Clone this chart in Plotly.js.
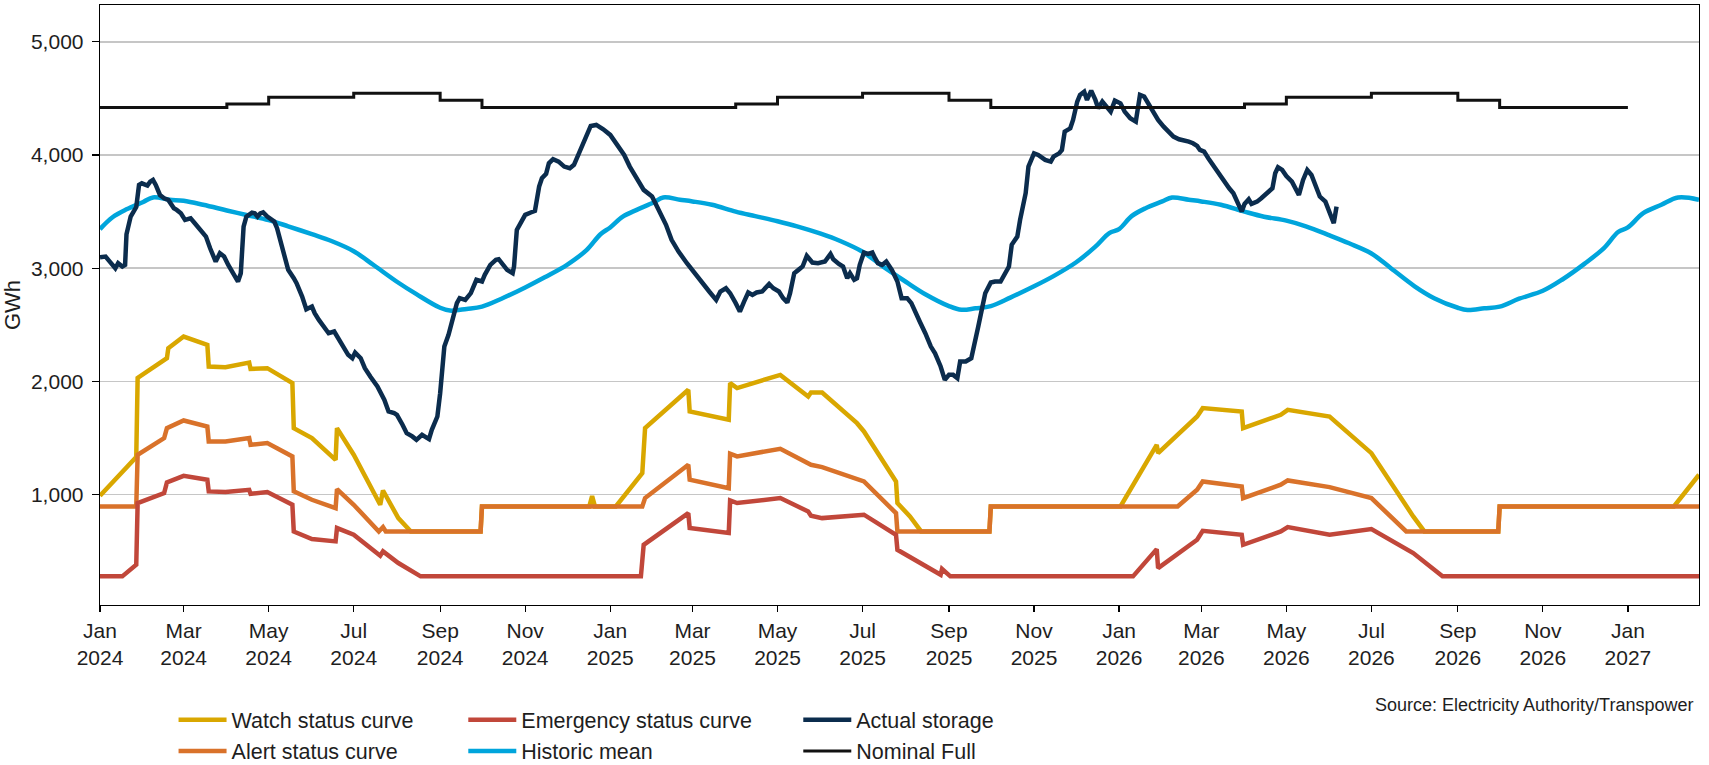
<!DOCTYPE html>
<html>
<head>
<meta charset="utf-8">
<script src="https://cdn.plot.ly/plotly-3.0.1.min.js"></script>
<style>
html,body{margin:0;padding:0;background:#ffffff;}
#chart{width:1709px;height:765px;}
</style>
</head>
<body>
<div id="chart"></div>
<script>
// ---------------- DATA (GWh) ----------------
const watchDates = ['2024-01-01','2024-01-27','2024-01-28','2024-02-18','2024-02-19','2024-03-01','2024-03-18','2024-03-19','2024-03-31','2024-04-17','2024-04-18','2024-04-30','2024-05-18','2024-05-19','2024-06-01','2024-06-18','2024-06-19','2024-07-01','2024-07-20','2024-07-22','2024-08-02','2024-08-09','2024-08-11','2024-09-30','2024-10-01','2024-12-17','2024-12-19','2024-12-21','2025-01-05','2025-01-24','2025-01-26','2025-02-26','2025-02-27','2025-03-27','2025-03-28','2025-04-02','2025-05-03','2025-05-23','2025-05-25','2025-06-02','2025-06-27','2025-07-02','2025-07-25','2025-07-26','2025-08-04','2025-08-12','2025-09-30','2025-10-01','2026-01-02','2026-01-28','2026-01-29','2026-02-26','2026-03-02','2026-03-30','2026-03-31','2026-04-27','2026-05-02','2026-06-01','2026-07-01','2026-07-31','2026-08-08','2026-09-30','2026-10-01','2027-02-03','2027-02-21'];
const watchGWh = [988,1330,2030,2205,2293,2396,2322,2131,2125,2166,2110,2116,1984,1586,1498,1306,1586,1351,909,1035,791,688,673,673,894,894,985,894,894,1189,1586,1925,1733,1660,1984,1940,2057,1866,1901,1901,1630,1557,1115,924,806,673,673,894,894,1439,1365,1689,1763,1733,1586,1704,1748,1689,1365,806,673,673,894,894,1174];

const alertDates = ['2024-01-01','2024-01-27','2024-01-28','2024-02-16','2024-02-18','2024-03-01','2024-03-18','2024-03-19','2024-03-31','2024-04-17','2024-04-18','2024-04-30','2024-05-18','2024-05-19','2024-06-01','2024-06-18','2024-06-19','2024-07-01','2024-07-19','2024-07-22','2024-07-24','2024-09-30','2024-10-01','2025-01-24','2025-01-26','2025-02-26','2025-02-27','2025-03-27','2025-03-28','2025-04-02','2025-05-03','2025-05-25','2025-06-02','2025-07-02','2025-07-25','2025-07-26','2025-09-30','2025-10-01','2026-02-12','2026-02-26','2026-03-02','2026-03-30','2026-03-31','2026-04-27','2026-05-02','2026-06-01','2026-07-01','2026-07-26','2026-09-30','2026-10-01','2027-02-21'];
const alertGWh = [894,894,1351,1498,1586,1654,1601,1468,1468,1498,1439,1454,1336,1027,953,879,1047,909,673,712,673,673,894,894,968,1262,1130,1056,1360,1336,1404,1262,1242,1115,835,673,673,894,894,1041,1115,1071,968,1086,1124,1065,968,673,673,894,894];

const emergencyDates = ['2024-01-01','2024-01-17','2024-01-27','2024-01-28','2024-02-16','2024-02-18','2024-03-01','2024-03-18','2024-03-19','2024-03-31','2024-04-17','2024-04-18','2024-04-30','2024-05-18','2024-05-19','2024-06-01','2024-06-18','2024-06-19','2024-07-01','2024-07-20','2024-07-22','2024-08-02','2024-08-18','2025-01-23','2025-01-25','2025-02-26','2025-02-27','2025-03-27','2025-03-28','2025-04-02','2025-05-03','2025-05-23','2025-05-25','2025-06-02','2025-07-02','2025-07-25','2025-07-26','2025-08-26','2025-08-27','2025-09-02','2026-01-11','2026-01-28','2026-01-29','2026-02-26','2026-03-02','2026-03-30','2026-03-31','2026-04-27','2026-05-02','2026-06-01','2026-07-01','2026-07-31','2026-08-21','2027-02-21'];
const emergencyGWh = [276,276,379,924,1012,1106,1165,1130,1027,1021,1041,1006,1021,909,673,606,585,703,644,458,497,394,276,276,555,835,703,659,947,924,968,850,812,791,821,644,511,290,341,276,276,517,349,600,679,644,555,673,712,644,694,482,276,276];

const historicDates = [
'2024-01-01','2024-01-10','2024-01-20','2024-02-01','2024-02-08','2024-02-20','2024-03-01','2024-03-15','2024-04-01','2024-04-15','2024-05-01','2024-05-15','2024-06-01','2024-06-15','2024-07-01','2024-07-15','2024-08-01','2024-08-15','2024-09-01','2024-09-08','2024-09-20','2024-10-01','2024-10-15','2024-11-01','2024-11-15','2024-12-01','2024-12-15','2024-12-25',
'2025-01-01','2025-01-10','2025-01-20','2025-02-01','2025-02-08','2025-02-20','2025-03-01','2025-03-15','2025-04-01','2025-04-15','2025-05-01','2025-05-15','2025-06-01','2025-06-15','2025-07-01','2025-07-15','2025-08-01','2025-08-15','2025-09-01','2025-09-10','2025-09-20','2025-10-01','2025-10-15','2025-11-01','2025-11-15','2025-12-01','2025-12-15','2025-12-25',
'2026-01-01','2026-01-10','2026-01-20','2026-02-01','2026-02-08','2026-02-20','2026-03-01','2026-03-15','2026-04-01','2026-04-15','2026-05-01','2026-05-15','2026-06-01','2026-06-15','2026-07-01','2026-07-15','2026-08-01','2026-08-15','2026-09-01','2026-09-08','2026-09-20','2026-10-01','2026-10-15','2026-11-01','2026-11-15','2026-12-01','2026-12-15','2026-12-25',
'2027-01-01','2027-01-12','2027-01-25','2027-02-06','2027-02-21'];
const historicGWh = [
3345,3450,3520,3585,3625,3605,3595,3560,3510,3470,3425,3370,3300,3240,3150,3030,2880,2770,2650,2625,2640,2660,2730,2830,2920,3030,3160,3300,
3360,3455,3515,3580,3625,3605,3590,3560,3500,3460,3415,3370,3305,3240,3145,3020,2880,2770,2665,2632,2645,2665,2740,2840,2930,3050,3190,3310,
3345,3460,3530,3590,3625,3605,3590,3560,3500,3455,3420,3370,3290,3220,3130,3000,2840,2735,2650,2630,2645,2660,2730,2800,2900,3040,3180,3320,
3360,3486,3560,3625,3605];

const actualDates = [
'2024-01-01','2024-01-05','2024-01-08','2024-01-12','2024-01-14','2024-01-17','2024-01-19','2024-01-20','2024-01-23','2024-01-25','2024-01-27','2024-01-29','2024-01-31',
'2024-02-04','2024-02-06','2024-02-08','2024-02-10','2024-02-13','2024-02-16','2024-02-19','2024-02-23','2024-02-25','2024-02-28',
'2024-03-02','2024-03-06','2024-03-09','2024-03-13','2024-03-17','2024-03-20','2024-03-24','2024-03-27','2024-03-30',
'2024-04-02','2024-04-06','2024-04-09','2024-04-11','2024-04-12','2024-04-13','2024-04-15','2024-04-19','2024-04-21','2024-04-23','2024-04-25','2024-04-27','2024-04-30',
'2024-05-02','2024-05-05','2024-05-07','2024-05-09','2024-05-13','2024-05-15','2024-05-19','2024-05-21','2024-05-25','2024-05-28',
'2024-06-01','2024-06-03','2024-06-06','2024-06-09','2024-06-13','2024-06-17','2024-06-20','2024-06-24','2024-06-27','2024-06-30',
'2024-07-02','2024-07-06','2024-07-09','2024-07-13','2024-07-18','2024-07-23','2024-07-26','2024-07-30',
'2024-08-01','2024-08-05','2024-08-08','2024-08-12','2024-08-15','2024-08-19','2024-08-21','2024-08-24','2024-08-26','2024-08-30',
'2024-09-01','2024-09-03','2024-09-04','2024-09-07','2024-09-10','2024-09-13','2024-09-15','2024-09-19','2024-09-23','2024-09-27',
'2024-10-01','2024-10-03','2024-10-07','2024-10-11','2024-10-13','2024-10-15','2024-10-19','2024-10-23','2024-10-24','2024-10-26','2024-10-29',
'2024-11-01','2024-11-05','2024-11-08','2024-11-11','2024-11-13','2024-11-16','2024-11-18','2024-11-21','2024-11-25','2024-11-29',
'2024-12-03','2024-12-06','2024-12-09','2024-12-12','2024-12-15','2024-12-18','2024-12-22','2024-12-27',
'2025-01-01','2025-01-06','2025-01-11','2025-01-15','2025-01-20','2025-01-25','2025-01-31',
'2025-02-05','2025-02-10','2025-02-14','2025-02-19','2025-02-25',
'2025-03-03','2025-03-08','2025-03-13','2025-03-18','2025-03-21','2025-03-25','2025-03-28',
'2025-04-01','2025-04-04','2025-04-07','2025-04-10','2025-04-13','2025-04-16','2025-04-20','2025-04-25','2025-04-28',
'2025-05-02','2025-05-05','2025-05-08','2025-05-10','2025-05-13','2025-05-16','2025-05-19','2025-05-22','2025-05-26','2025-05-30',
'2025-06-04','2025-06-08','2025-06-10','2025-06-14','2025-06-17','2025-06-20','2025-06-22','2025-06-25','2025-06-27','2025-06-29',
'2025-07-02','2025-07-05','2025-07-08','2025-07-10','2025-07-12','2025-07-15','2025-07-18','2025-07-22','2025-07-26','2025-07-29',
'2025-08-02','2025-08-05','2025-08-09','2025-08-11','2025-08-15','2025-08-19','2025-08-22','2025-08-26','2025-08-29',
'2025-09-01','2025-09-04','2025-09-07','2025-09-09','2025-09-13','2025-09-17','2025-09-20','2025-09-22','2025-09-25','2025-09-27',
'2025-10-01','2025-10-04','2025-10-08','2025-10-11','2025-10-14','2025-10-16','2025-10-20','2025-10-22','2025-10-24','2025-10-26','2025-10-28',
'2025-11-01','2025-11-04','2025-11-09','2025-11-13','2025-11-15','2025-11-19','2025-11-21','2025-11-23','2025-11-27','2025-11-29',
'2025-12-02','2025-12-04','2025-12-07','2025-12-09','2025-12-12','2025-12-15','2025-12-17','2025-12-20','2025-12-23','2025-12-26','2025-12-29',
'2026-01-02','2026-01-05','2026-01-09','2026-01-13','2026-01-14','2026-01-16','2026-01-19','2026-01-22','2026-01-26','2026-01-29',
'2026-02-02','2026-02-06','2026-02-09','2026-02-13','2026-02-16','2026-02-20','2026-02-23','2026-02-26','2026-02-28',
'2026-03-03','2026-03-06','2026-03-10','2026-03-13','2026-03-17','2026-03-21','2026-03-24','2026-03-28','2026-03-30',
'2026-04-01','2026-04-04','2026-04-06','2026-04-10','2026-04-13','2026-04-17','2026-04-21','2026-04-23','2026-04-25','2026-04-28',
'2026-05-01','2026-05-05','2026-05-08','2026-05-10','2026-05-13','2026-05-16','2026-05-19','2026-05-22','2026-05-25','2026-05-29',
'2026-06-01','2026-06-04','2026-06-05','2026-06-06'];
const actualGWh = [
3097,3103,3058,2999,3044,3014,3029,3300,3456,3500,3540,3736,3750,
3730,3765,3780,3736,3647,3618,3603,3530,3515,3485,
3427,3441,3397,3338,3279,3176,3058,3132,3103,
3029,2941,2882,2955,3161,3368,3456,3491,3485,3456,3485,3494,3456,
3441,3412,3353,3265,3103,2985,2911,2867,2749,2637,
2661,2602,2543,2499,2425,2440,2381,2307,2234,2204,
2254,2204,2116,2040,1954,1836,1733,1719,
1704,1616,1542,1513,1483,1527,1513,1489,1571,1689,
1895,2190,2308,2411,2573,2691,2735,2720,2779,2897,
2882,2941,3029,3073,3079,3044,2985,2956,3015,3338,3397,
3471,3492,3506,3721,3795,3833,3927,3963,3942,3898,
3883,3913,4001,4089,4163,4257,4266,4228,
4178,4089,4001,3898,3795,3692,3633,
3515,3383,3250,3147,3044,
2956,2882,2794,2720,2794,2823,2779,
2691,2617,2705,2785,2764,2785,2794,2861,2823,
2794,2735,2696,2779,2956,2985,3015,3109,3050,3044,
3059,3126,3079,3038,3015,2911,2956,2897,2911,3029,
3138,3126,3138,3088,3044,3029,3059,2985,2882,2735,
2735,2691,2573,2529,2425,2307,2248,2131,2013,
2057,2057,2028,2175,2175,2204,2396,2484,2661,2779,
2873,2882,2882,2941,3014,3206,3279,3427,3544,3662,3898,
4015,4001,3957,3942,3986,4015,4045,4207,4236,4310,
4472,4531,4560,4487,4569,4487,4413,4472,4428,4384,4481,
4457,4384,4325,4295,4369,4531,4516,4457,4384,4310,
4251,4198,4163,4139,4133,4118,4104,4080,4045,
4030,3971,3898,3853,3765,3706,3662,3559,3500,
3568,3609,3568,3588,3618,3656,3706,3839,3892,3868,
3815,3765,3692,3647,3780,3868,3824,3727,3633,3588,
3485,3397,3471,3544];

const nominalDates = ['2024-01-01','2024-04-01','2024-05-01','2024-07-01','2024-09-01','2024-10-01','2025-04-01','2025-05-01','2025-07-01','2025-09-01','2025-10-01','2026-04-01','2026-05-01','2026-07-01','2026-09-01','2026-10-01','2027-01-01'];
const nominalGWh = [4420,4450,4510,4545,4485,4420,4450,4510,4545,4485,4420,4450,4510,4545,4485,4420,4420];

const yTicks = [1000,2000,3000,4000,5000];
const xRange = ['2024-01-01','2027-02-21'];

// ---------------- CHART ----------------
const FONT = '"Liberation Sans", Arial, Helvetica, sans-serif';
const TXT = '#1e1e1e';

function lineTrace(name, x, y, color, width, legendId, shape) {
  return {
    type: 'scatter', mode: 'lines', name: name, x: x, y: y,
    line: {color: color, width: width, shape: shape || 'linear'},
    legend: legendId, hoverinfo: 'skip'
  };
}

const traces = [
  lineTrace('Watch status curve', watchDates, watchGWh, '#D9A700', 4.5, 'legend'),
  lineTrace('Alert status curve', alertDates, alertGWh, '#D9722A', 4.5, 'legend2'),
  lineTrace('Emergency status curve', emergencyDates, emergencyGWh, '#C1473A', 4.5, 'legend3'),
  lineTrace('Historic mean', historicDates, historicGWh, '#00A5DC', 4.5, 'legend4', 'spline'),
  lineTrace('Actual storage', actualDates, actualGWh, '#0B2C4D', 4.5, 'legend5'),
  lineTrace('Nominal Full', nominalDates, nominalGWh, '#111111', 3, 'legend6', 'hv')
];

function legendAt(x, y) {
  return {
    x: x, y: y, xref: 'paper', yref: 'paper', xanchor: 'left', yanchor: 'top',
    orientation: 'v', bgcolor: 'rgba(0,0,0,0)', borderwidth: 0,
    itemwidth: 48, font: {family: FONT, size: 21.5, color: TXT}
  };
}
const row1 = -0.157, row2 = -0.209;
const col1 = 0.0460, col2 = 0.2272, col3 = 0.4367;

const layout = {
  width: 1709, height: 765,
  margin: {l: 100, r: 10, t: 5, b: 160, autoexpand: false},
  paper_bgcolor: '#ffffff', plot_bgcolor: '#ffffff',
  font: {family: FONT, size: 21, color: TXT},
  showlegend: true,
  xaxis: {
    type: 'date', range: xRange, tick0: '2024-01-01', dtick: 'M2',
    tickformat: '%b<br>%Y', ticks: 'outside', ticklen: 6, tickwidth: 1.2, tickcolor: '#000',
    showline: true, linecolor: '#000', linewidth: 1.3, mirror: true,
    showgrid: false, zeroline: false, automargin: false,
    tickfont: {family: FONT, size: 21, color: TXT}
  },
  yaxis: {
    range: [23, 5326], tickvals: yTicks, tickformat: ',d',
    ticks: 'outside', ticklen: 7, tickwidth: 1.2, tickcolor: '#000', ticklabelstandoff: 4,
    showline: true, linecolor: '#000', linewidth: 1.3, mirror: true,
    showgrid: true, gridcolor: '#c6c6c6', gridwidth: 1.5, zeroline: false, automargin: false,
    tickfont: {family: FONT, size: 21, color: TXT},
    title: {text: 'GWh', standoff: 6, font: {family: FONT, size: 22, color: TXT}}
  },
  legend: legendAt(col1, row1),
  legend2: legendAt(col1, row2),
  legend3: legendAt(col2, row1),
  legend4: legendAt(col2, row2),
  legend5: legendAt(col3, row1),
  legend6: legendAt(col3, row2),
  annotations: [{
    text: 'Source: Electricity Authority/Transpower',
    xref: 'paper', yref: 'paper', x: 0.9975, y: -0.1667,
    xanchor: 'right', yanchor: 'middle', showarrow: false,
    font: {family: FONT, size: 18, color: TXT}
  }]
};

Plotly.newPlot('chart', traces, layout, {displayModeBar: false, staticPlot: true});
</script>
</body>
</html>
